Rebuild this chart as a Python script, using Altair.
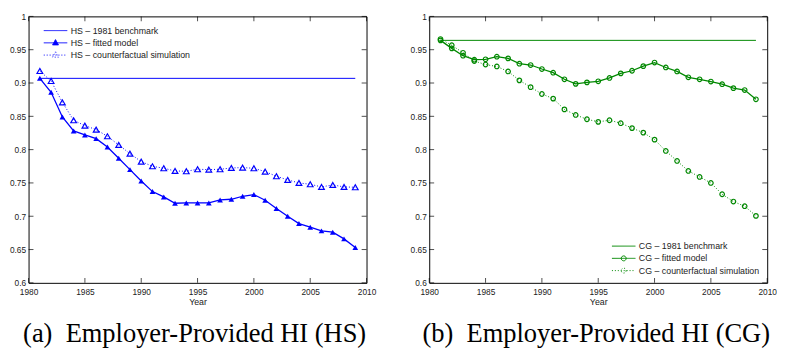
import altair as alt
import pandas as pd

years = list(range(1981, 2010))
bench_years = [1981, 2009]

hs_bench = [0.907, 0.907]
hs_fitted = [0.907, 0.886, 0.849, 0.828, 0.822, 0.8165, 0.804, 0.787, 0.770, 0.753,
             0.737, 0.729, 0.7195, 0.720, 0.720, 0.720, 0.7245, 0.7255, 0.730, 0.7325,
             0.724, 0.7115, 0.700, 0.689, 0.6835, 0.678, 0.676, 0.666, 0.653]
hs_counter = [0.918, 0.903, 0.871, 0.844, 0.836, 0.830, 0.820, 0.807, 0.794, 0.782,
              0.775, 0.772, 0.768, 0.7675, 0.7705, 0.770, 0.7705, 0.7725, 0.773, 0.772,
              0.767, 0.760, 0.7545, 0.750, 0.748, 0.744, 0.747, 0.744, 0.7435]

cg_bench = [0.964, 0.964]
cg_fitted = [0.964, 0.952, 0.941, 0.935, 0.9356, 0.9395, 0.937, 0.929, 0.927, 0.921,
             0.9155, 0.9056, 0.8987, 0.901, 0.9026, 0.9076, 0.9145, 0.9184, 0.9253, 0.9307,
             0.9233, 0.9174, 0.9086, 0.9056, 0.9022, 0.8982, 0.8923, 0.8894, 0.8756]
cg_counter = [0.966, 0.9567, 0.9454, 0.933, 0.9277, 0.9248, 0.9174, 0.904, 0.8938, 0.8835,
              0.8766, 0.8604, 0.852, 0.8456, 0.8417, 0.8441, 0.8397, 0.8323, 0.8255, 0.815,
              0.798, 0.783, 0.768, 0.759, 0.750, 0.733, 0.722, 0.7151, 0.7005]

x_ticks = [1980, 1985, 1990, 1995, 2000, 2005, 2010]
y_ticks = [0.6, 0.65, 0.7, 0.75, 0.8, 0.85, 0.9, 0.95, 1.0]

W, H = 345, 272
FONT = "Liberation Sans"


def panel(prefix, bench, fitted, counter, color, shape, fit_filled, msize,
          marker_path, legend_x, legend_y, caption, title_dx):
    n_bench = f"{prefix} – 1981 benchmark"
    n_fit = f"{prefix} – fitted model"
    n_cf = f"{prefix} – counterfactual simulation"
    names = [n_bench, n_fit, n_cf]
    lines = pd.DataFrame({
        "year": bench_years + years + years,
        "value": bench + fitted + counter,
        "series": [n_bench] * len(bench_years) + [n_fit] * len(years) + [n_cf] * len(years),
    })
    bench_df = pd.DataFrame({"year": bench_years, "value": bench})
    fit_df = pd.DataFrame({"year": years, "value": fitted})
    cf_df = pd.DataFrame({"year": years, "value": counter})

    xscale = alt.Scale(domain=[1980, 2010], nice=False, zero=False)
    yscale = alt.Scale(domain=[0.6, 1.0], nice=False, zero=False)
    xaxis = alt.Axis(values=x_ticks, format="d", title="Year", labelFlush=False, labelPadding=5)
    yaxis = alt.Axis(values=y_ticks, format="~g", title=None, labelPadding=3)
    base_x = alt.X("year:Q", scale=xscale, axis=xaxis)
    base_y = alt.Y("value:Q", scale=yscale, axis=yaxis)

    line_path = "M-2,0H2"
    legend = alt.Legend(
        title=None, orient="none", legendX=legend_x, legendY=legend_y,
        symbolSize=144, symbolStrokeWidth=1, symbolOpacity=1, labelFont=FONT, labelFontSize=9,
        labelColor="#222", labelOffset=9, rowPadding=0.5, padding=0,
    )
    fill_range = ["transparent", color if fit_filled else "transparent", "transparent"]
    legend_layer = alt.Chart(lines).mark_point(opacity=0).encode(
        x=base_x, y=base_y,
        stroke=alt.Stroke("series:N", scale=alt.Scale(domain=names, range=[color] * 3), legend=legend),
        fill=alt.Fill("series:N", scale=alt.Scale(domain=names, range=fill_range), legend=legend),
        shape=alt.Shape("series:N", scale=alt.Scale(
            domain=names, range=[line_path, line_path + marker_path, line_path + marker_path]), legend=legend),
        strokeDash=alt.StrokeDash("series:N", scale=alt.Scale(
            domain=names, range=[[1, 0], [1, 0], [1, 2]]), legend=legend),
    )

    bench_line = alt.Chart(bench_df).mark_line(color=color, strokeWidth=1).encode(x=base_x, y=base_y)
    fit_line = alt.Chart(fit_df).mark_line(color=color, strokeWidth=1.3).encode(x=base_x, y=base_y)
    cf_line = alt.Chart(cf_df).mark_line(color=color, strokeWidth=1, strokeDash=[1, 2]).encode(x=base_x, y=base_y)
    fit_pts = alt.Chart(fit_df).mark_point(
        shape=shape, filled=fit_filled, size=msize, color=color, strokeWidth=1.2, opacity=1
    ).encode(x=base_x, y=base_y)
    cf_pts = alt.Chart(cf_df).mark_point(
        shape=shape, filled=False, size=msize, color=color, strokeWidth=1.2, opacity=1
    ).encode(x=base_x, y=base_y)

    xt = pd.DataFrame({"year": x_ticks})
    yt = pd.DataFrame({"value": y_ticks})
    tick_style = dict(color="black", thickness=1, size=5)
    bottom = alt.Chart(xt).mark_tick(orient="vertical", yOffset=-2.5, **tick_style).encode(
        x=base_x, y=alt.YDatum(0.6, scale=yscale, axis=yaxis))
    top = alt.Chart(xt).mark_tick(orient="vertical", yOffset=2.5, **tick_style).encode(
        x=base_x, y=alt.YDatum(1.0, scale=yscale, axis=yaxis))
    left = alt.Chart(yt).mark_tick(orient="horizontal", xOffset=2.5, **tick_style).encode(
        y=base_y, x=alt.XDatum(1980, scale=xscale, axis=xaxis))
    right = alt.Chart(yt).mark_tick(orient="horizontal", xOffset=-2.5, **tick_style).encode(
        y=base_y, x=alt.XDatum(2010, scale=xscale, axis=xaxis))

    return alt.layer(legend_layer, bench_line, cf_line, fit_line, cf_pts, fit_pts,
                     bottom, top, left, right).properties(
        width=W, height=H,
        title=alt.TitleParams(caption, orient="bottom", font="Liberation Serif", fontSize=27,
                              fontWeight="normal", color="black", offset=15, dx=title_dx),
    )


tri = "M0,-0.55L0.5,0.35L-0.5,0.35Z"
circ = "M0.42,0A0.42,0.42,0,1,1,-0.42,0A0.42,0.42,0,1,1,0.42,0Z"

left_panel = panel("HS", hs_bench, hs_fitted, hs_counter, "#0000ff", "triangle-up", True, 34,
                   tri, 21, 8, "(a)\u2002Employer-Provided HI (HS)", -3)
right_panel = panel("CG", cg_bench, cg_fitted, cg_counter, "#008800", "circle", False, 22,
                    circ, 192, 228, "(b)\u2002Employer-Provided HI (CG)", -2)

chart = alt.hconcat(left_panel, right_panel, spacing=33).resolve_scale(
    stroke="independent", fill="independent", shape="independent", strokeDash="independent"
).resolve_legend(
    stroke="independent", fill="independent", shape="independent", strokeDash="independent"
).properties(
    padding={"left": 0, "top": 0, "right": 0, "bottom": 0}
).configure_view(
    stroke="black", strokeWidth=1
).configure_axis(
    labelFont=FONT, labelFontSize=8.5, labelColor="#222", titleFont=FONT, titleFontSize=9,
    titleFontWeight="normal", titleColor="#222", titlePadding=2,
    domain=False, ticks=False, grid=False
)

chart.save("out.html", embed_options={"renderer": "svg", "actions": False})
